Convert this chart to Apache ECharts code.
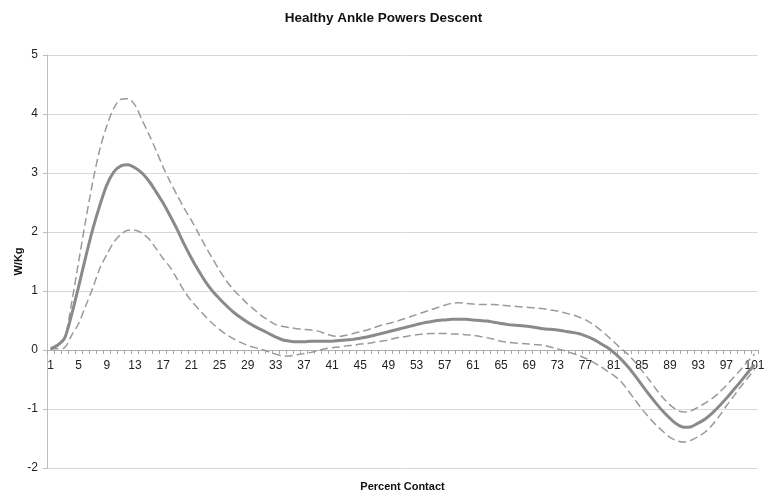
<!DOCTYPE html>
<html>
<head>
<meta charset="utf-8">
<title>Healthy Ankle Powers Descent</title>
<script src="https://cdn.jsdelivr.net/npm/echarts@6/dist/echarts.min.js"></script>
<style>
  html, body { margin: 0; padding: 0; background: #ffffff; }
  #chart { width: 767px; height: 495px; }
</style>
</head>
<body>
<div id="chart"></div>
<script>
// Percent of contact, 1..101
var categories = [];
for (var c = 1; c <= 101; c++) categories.push(String(c));

// Mean ankle power (W/Kg)
var meanPower = [
  0.02, 0.08, 0.20, 0.60, 1.08, 1.58, 2.05, 2.45, 2.80, 3.02,
  3.12, 3.14, 3.09, 3.00, 2.86, 2.68, 2.49, 2.27, 2.04, 1.79,
  1.56, 1.35, 1.16, 1.00, 0.87, 0.75, 0.64, 0.55, 0.47, 0.40,
  0.34, 0.28, 0.22, 0.17, 0.15, 0.14, 0.14, 0.15, 0.15, 0.15,
  0.15, 0.16, 0.17, 0.18, 0.20, 0.22, 0.25, 0.28, 0.31, 0.34,
  0.37, 0.40, 0.43, 0.46, 0.48, 0.50, 0.51, 0.52, 0.52, 0.52,
  0.51, 0.50, 0.49, 0.47, 0.45, 0.43, 0.42, 0.41, 0.40, 0.38,
  0.36, 0.35, 0.34, 0.32, 0.30, 0.28, 0.24, 0.19, 0.12, 0.05,
  -0.04, -0.15, -0.28, -0.43, -0.59, -0.75, -0.90, -1.04, -1.16, -1.26,
  -1.31, -1.30, -1.24, -1.17, -1.07, -0.95, -0.82, -0.68, -0.54, -0.39,
  -0.25
];

// Mean + 1 SD
var upperPower = [
  0.02, 0.10, 0.20, 0.80, 1.50, 2.20, 2.85, 3.40, 3.80, 4.10,
  4.25, 4.26, 4.15, 3.90, 3.65, 3.38, 3.10, 2.85, 2.62, 2.40,
  2.20, 1.98, 1.76, 1.55, 1.35, 1.17, 1.02, 0.90, 0.78, 0.68,
  0.58, 0.50, 0.43, 0.40, 0.38, 0.36, 0.35, 0.34, 0.32, 0.28,
  0.24, 0.23, 0.25, 0.28, 0.31, 0.34, 0.38, 0.42, 0.45, 0.48,
  0.52, 0.56, 0.60, 0.64, 0.68, 0.72, 0.76, 0.79, 0.80, 0.79,
  0.78, 0.77, 0.77, 0.77, 0.76, 0.75, 0.74, 0.73, 0.72, 0.71,
  0.70, 0.68, 0.66, 0.63, 0.60, 0.56, 0.51, 0.44, 0.35, 0.25,
  0.14, 0.03, -0.07, -0.20, -0.35, -0.50, -0.66, -0.81, -0.93, -1.02,
  -1.05, -1.03, -0.97, -0.90, -0.82, -0.72, -0.60, -0.47, -0.34, -0.20,
  -0.07
];

// Mean - 1 SD
var lowerPower = [
  0.02, 0.02, 0.04, 0.25, 0.45, 0.75, 1.05, 1.38, 1.62, 1.83,
  1.96, 2.03, 2.03, 1.98, 1.88, 1.72, 1.55, 1.40, 1.20, 1.00,
  0.83, 0.70, 0.57, 0.45, 0.35, 0.26, 0.19, 0.13, 0.08, 0.04,
  0.01, -0.03, -0.07, -0.10, -0.10, -0.08, -0.06, -0.04, -0.01, 0.02,
  0.04, 0.05, 0.07, 0.08, 0.10, 0.11, 0.13, 0.15, 0.17, 0.20,
  0.22, 0.24, 0.26, 0.27, 0.28, 0.28, 0.28, 0.27, 0.27, 0.26,
  0.25, 0.23, 0.21, 0.18, 0.15, 0.13, 0.12, 0.11, 0.10, 0.09,
  0.08, 0.05, 0.02, -0.01, -0.05, -0.09, -0.14, -0.20, -0.27, -0.35,
  -0.43, -0.53, -0.68, -0.84, -1.00, -1.14, -1.27, -1.38, -1.48, -1.54,
  -1.56, -1.53, -1.47, -1.39, -1.27, -1.12, -0.95, -0.79, -0.63, -0.48,
  -0.33
];

var yTicks = { min: -2, max: 5, step: 1 };

var font = '"Liberation Sans", Arial, sans-serif';

// Plot box
var gridBox = { left: 47, right: 9, top: 55, bottom: 27 };
var plotHeight = 495 - gridBox.top - gridBox.bottom;
// Lift the category axis from the bottom edge up to the zero line
var zeroLift = plotHeight * (0 - yTicks.min) / (yTicks.max - yTicks.min);

var chart = echarts.init(document.getElementById('chart'), null, { renderer: 'canvas' });

chart.setOption({
  animation: false,
  backgroundColor: '#ffffff',
  title: {
    text: 'Healthy Ankle Powers Descent',
    left: 'center',
    top: 6,
    textStyle: { fontFamily: font, fontSize: 13.5, fontWeight: 'bold', color: '#111' }
  },
  grid: {
    left: gridBox.left, right: gridBox.right, top: gridBox.top, bottom: gridBox.bottom,
    containLabel: false, outerBoundsMode: 'none'
  },
  xAxis: {
    type: 'category',
    data: categories,
    boundaryGap: true,
    position: 'bottom',
    offset: -zeroLift,
    name: 'Percent Contact',
    nameLocation: 'middle',
    nameGap: 131,
    nameMoveOverlap: false,
    nameTextStyle: { fontFamily: font, fontSize: 11, fontWeight: 'bold', color: '#111' },
    axisLine: { onZero: false, lineStyle: { color: '#b0b0b0', width: 1 } },
    axisTick: { show: true, interval: 0, length: 4, lineStyle: { color: '#a8a8a8' } },
    axisLabel: { interval: 3, margin: 10, fontFamily: font, fontSize: 12, color: '#222' },
    splitLine: { show: false }
  },
  yAxis: {
    type: 'value',
    min: yTicks.min,
    max: yTicks.max,
    interval: yTicks.step,
    name: 'W/Kg',
    nameLocation: 'middle',
    nameRotate: 90,
    nameGap: 23,
    nameMoveOverlap: false,
    nameTextStyle: { fontFamily: font, fontSize: 11, fontWeight: 'bold', color: '#111' },
    axisLine: { show: true, lineStyle: { color: '#bdbdbd', width: 1 } },
    axisTick: { show: true, length: 4, lineStyle: { color: '#bdbdbd' } },
    axisLabel: { margin: 9, fontFamily: font, fontSize: 12, color: '#222' },
    splitLine: { show: true, lineStyle: { color: '#d9d9d9', width: 1 } }
  },
  series: [
    {
      name: '+1 SD',
      type: 'line',
      data: upperPower,
      smooth: 0.3,
      showSymbol: false,
      lineStyle: { color: '#9a9a9a', width: 1.5, type: [8, 4] },
      z: 2
    },
    {
      name: '-1 SD',
      type: 'line',
      data: lowerPower,
      smooth: 0.3,
      showSymbol: false,
      lineStyle: { color: '#9a9a9a', width: 1.5, type: [8, 4] },
      z: 2
    },
    {
      name: 'Mean',
      type: 'line',
      data: meanPower,
      smooth: 0.3,
      showSymbol: false,
      lineStyle: { color: '#8a8a8a', width: 3 },
      z: 3
    }
  ]
});
</script>
</body>
</html>
